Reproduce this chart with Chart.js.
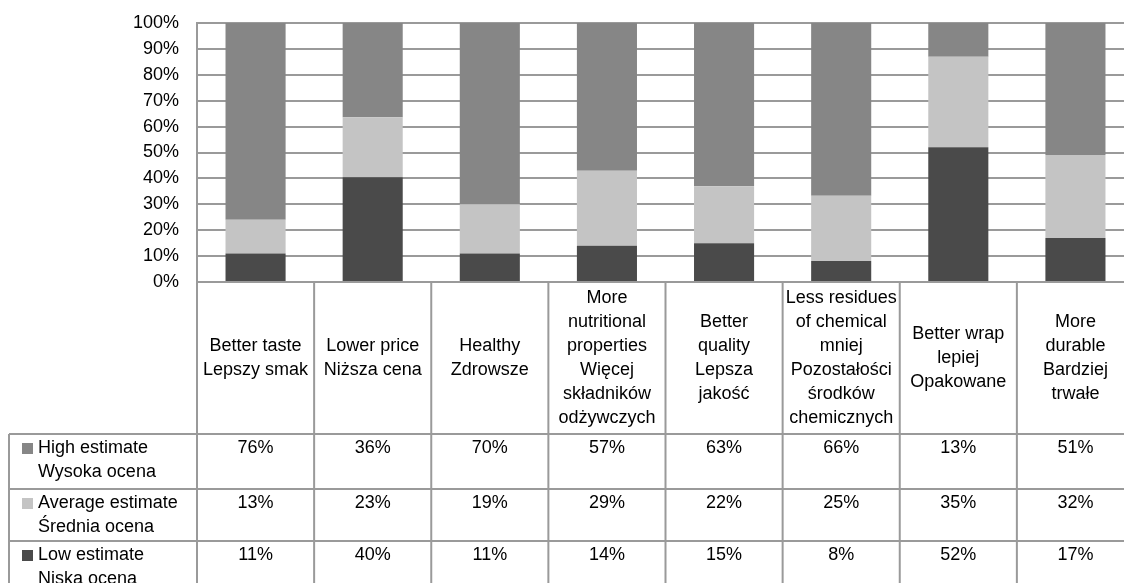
<!DOCTYPE html>
<html>
<head>
<meta charset="utf-8">
<script src="https://cdn.jsdelivr.net/npm/chart.js@4.4.1/dist/chart.umd.min.js"></script>
<style>
  html, body { margin: 0; padding: 0; background: #fff; overflow: hidden; }
  #wrap { position: relative; width: 1140px; height: 610px; }
</style>
</head>
<body>
<div id="wrap"><canvas id="c" width="1140" height="610"></canvas></div>
<script>
/* ---- data ---- */
const categories = [
  ['Better taste', 'Lepszy smak'],
  ['Lower price', 'Niższa cena'],
  ['Healthy', 'Zdrowsze'],
  ['More', 'nutritional', 'properties', 'Więcej', 'składników', 'odżywczych'],
  ['Better', 'quality', 'Lepsza', 'jakość'],
  ['Less residues', 'of chemical', 'mniej', 'Pozostałości', 'środków', 'chemicznych'],
  ['Better wrap', 'lepiej', 'Opakowane'],
  ['More', 'durable', 'Bardziej', 'trwałe']
];
const highLabel = ['High estimate', 'Wysoka ocena'];
const avgLabel  = ['Average estimate', 'Średnia ocena'];
const lowLabel  = ['Low estimate', 'Niska ocena'];

const highVals = [76, 36, 70, 57, 63, 66, 13, 51];
const avgVals  = [13, 23, 19, 29, 22, 25, 35, 32];
const lowVals  = [11, 40, 11, 14, 15, 8, 52, 17];

const yTicks = [0, 10, 20, 30, 40, 50, 60, 70, 80, 90, 100];

const COL_HIGH = '#868686', COL_AVG = '#c4c4c4', COL_LOW = '#4a4a4a';
const LINE = '#9a9a9a';
const FONT = '18px "Liberation Sans", Arial, sans-serif';

// 100% stacked: share of each column total
const totals = highVals.map((v, i) => v + avgVals[i] + lowVals[i]);
const pct = arr => arr.map((v, i) => v / totals[i] * 100);

/* ---- data table under the plot ---- */
const tableRows = [
  { lab: highLabel, vals: highVals, color: COL_HIGH },
  { lab: avgLabel,  vals: avgVals,  color: COL_AVG },
  { lab: lowLabel,  vals: lowVals,  color: COL_LOW }
];
const PLOT_TOP = 23, PLOT_BOTTOM = 282;
const HEADER_H = 152, ROW_H = [55, 52, 52], LH = 24;

const dataTable = {
  id: 'dataTable',
  afterDraw(chart) {
    const { ctx, chartArea: a } = chart;
    const xs = chart.scales.x;
    const step = xs.getPixelForValue(1) - xs.getPixelForValue(0);
    const bounds = categories.map((_, i) => xs.getPixelForValue(i) - step / 2);
    bounds.push(xs.getPixelForValue(categories.length - 1) + step / 2);
    const tableLeft = 9;
    const hb = a.bottom + HEADER_H;
    let rowY = [hb];
    ROW_H.forEach(h => rowY.push(rowY[rowY.length - 1] + h));
    const bottom = chart.height;

    ctx.save();
    ctx.strokeStyle = LINE;
    ctx.lineWidth = 2;
    ctx.beginPath();
    // vertical lines
    bounds.forEach(x => { ctx.moveTo(x, a.bottom); ctx.lineTo(x, bottom); });
    ctx.moveTo(tableLeft, hb); ctx.lineTo(tableLeft, bottom);
    // horizontal lines
    rowY.forEach(y => { ctx.moveTo(tableLeft, y); ctx.lineTo(bounds[bounds.length - 1], y); });
    ctx.stroke();

    ctx.fillStyle = '#000';
    ctx.font = FONT;
    ctx.textAlign = 'center';
    ctx.textBaseline = 'middle';
    // header: category names, centered
    categories.forEach((lines, i) => {
      const cx = xs.getPixelForValue(i);
      const cy = (a.bottom + hb) / 2;
      const y0 = cy - (lines.length - 1) * LH / 2;
      lines.forEach((t, k) => ctx.fillText(t, cx, y0 + k * LH));
    });
    // rows
    tableRows.forEach((r, j) => {
      const top = rowY[j] + 14;
      ctx.fillStyle = r.color;
      ctx.fillRect(22, top - 5, 11, 11);
      ctx.fillStyle = '#000';
      ctx.textAlign = 'left';
      r.lab.forEach((t, k) => ctx.fillText(t, 38, top + k * LH));
      ctx.textAlign = 'center';
      r.vals.forEach((v, i) => ctx.fillText(v + '%', xs.getPixelForValue(i), top));
    });
    ctx.restore();
  }
};

new Chart(document.getElementById('c'), {
  type: 'bar',
  data: {
    labels: categories.map(c => c.join(' ')),
    datasets: [
      { label: lowLabel.join(' '),  data: pct(lowVals),  backgroundColor: COL_LOW },
      { label: avgLabel.join(' '),  data: pct(avgVals),  backgroundColor: COL_AVG },
      { label: highLabel.join(' '), data: pct(highVals), backgroundColor: COL_HIGH }
    ]
  },
  options: {
    responsive: false,
    animation: false,
    layout: { padding: { top: 0, right: 6, bottom: 610 - PLOT_BOTTOM, left: 0 } },
    datasets: { bar: { categoryPercentage: 1, barPercentage: 0.513 } },
    scales: {
      x: { stacked: true, display: false },
      y: {
        stacked: true, min: 0, max: 100,
        afterFit: s => { s.width = 197; s.paddingTop = PLOT_TOP; },
        afterBuildTicks: s => { s.ticks = yTicks.map(v => ({ value: v })); },
        ticks: { padding: 18, color: '#000', font: { family: '"Liberation Sans", Arial, sans-serif', size: 18 },
                 callback: v => v + '%' },
        grid: { color: LINE, lineWidth: 2, drawTicks: false },
        border: { color: LINE, width: 2 }
      }
    },
    plugins: { legend: { display: false }, tooltip: { enabled: false } }
  },
  plugins: [dataTable]
});
</script>
</body>
</html>
